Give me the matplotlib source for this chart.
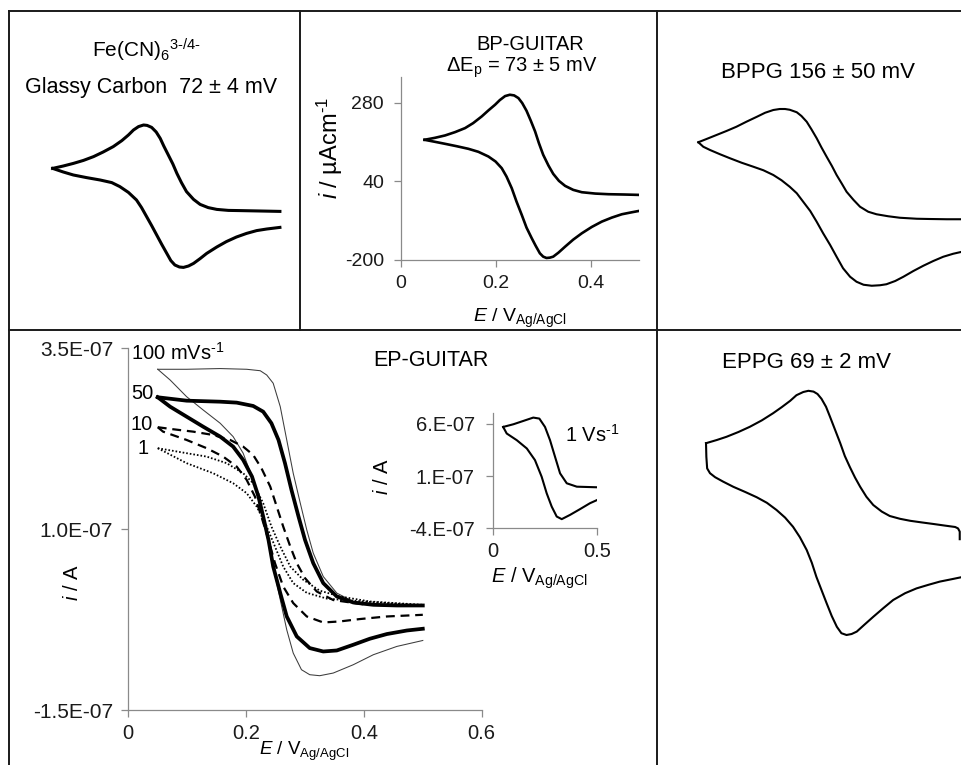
import numpy as np
import matplotlib.pyplot as plt
from matplotlib.lines import Line2D

plt.rcParams['font.family'] = ['Liberation Sans', 'DejaVu Sans']
plt.rcParams['mathtext.fontset'] = 'custom'
plt.rcParams['mathtext.rm'] = 'Liberation Sans'
plt.rcParams['mathtext.it'] = 'Liberation Sans:italic'
plt.rcParams['mathtext.bf'] = 'Liberation Sans:bold'
plt.rcParams['mathtext.sf'] = 'Liberation Sans'
plt.rcParams['mathtext.default'] = 'regular'

W, H = 962, 765
AXIS_GREY = '#8a8a8a'
BORDER = '#1a1a1a'
HY = '\u2010'  # plain hyphen inside superscripts

# ---- glassy carbon, Fe(CN)6 (current in uA)
gc_fwd_E = [0.050, 0.071, 0.091, 0.111, 0.131, 0.150, 0.170, 0.187, 0.200, 0.210, 0.220, 0.230, 0.237, 0.246,
            0.255, 0.263, 0.270, 0.279, 0.288, 0.296, 0.305, 0.315, 0.329, 0.342, 0.358, 0.375, 0.398, 0.421,
            0.461, 0.500]
gc_fwd_i = [10.8, 12.0, 13.3, 14.8, 16.7, 19.0, 21.7, 24.7, 27.5, 30.0, 31.7, 32.5, 32.3, 31.3,
            29.0, 25.8, 22.0, 17.5, 13.0, 8.3, 3.7, -0.8, -4.7, -7.2, -8.8, -9.7, -10.2, -10.3,
            -10.5, -10.7]
gc_rev_E = [0.050, 0.071, 0.091, 0.117, 0.144, 0.167, 0.183, 0.200, 0.216, 0.226, 0.236, 0.246, 0.256, 0.266,
            0.276, 0.284, 0.292, 0.301, 0.309, 0.319, 0.329, 0.342, 0.355, 0.375, 0.394, 0.414, 0.434, 0.454,
            0.474, 0.500]
gc_rev_i = [10.8, 9.0, 7.5, 6.2, 5.0, 3.7, 1.7, -1.2, -5.0, -8.8, -13.3, -17.8, -22.5, -27.2,
            -31.7, -35.3, -37.5, -38.5, -38.7, -38.0, -36.7, -34.3, -31.7, -28.5, -25.8, -23.5, -21.7, -20.3,
            -19.5, -18.7]

# ---- BP-GUITAR (uA cm-1)
bp_fwd_E = [0.050, 0.072, 0.093, 0.114, 0.135, 0.152, 0.170, 0.184, 0.198, 0.208, 0.219, 0.229, 0.238, 0.247,
            0.255, 0.264, 0.273, 0.282, 0.290, 0.299, 0.310, 0.320, 0.332, 0.345, 0.362, 0.380, 0.408, 0.436,
            0.471, 0.500]
bp_fwd_i = [166.7, 172.8, 180.0, 190.2, 202.5, 217.8, 238.3, 256.7, 274.1, 288.4, 300.6, 304.7, 302.7, 294.5,
            279.2, 255.6, 225.0, 192.2, 156.4, 120.7, 87.9, 62.4, 40.9, 25.5, 13.3, 6.1, 2.0, 0.0,
            -1.0, -2.1]
bp_rev_E = [0.050, 0.072, 0.093, 0.117, 0.142, 0.163, 0.184, 0.199, 0.212, 0.222, 0.233, 0.243, 0.254, 0.264,
            0.275, 0.283, 0.292, 0.299, 0.306, 0.313, 0.320, 0.331, 0.345, 0.362, 0.380, 0.401, 0.422, 0.443,
            0.464, 0.485, 0.500]
bp_rev_i = [166.7, 160.5, 154.4, 147.2, 139.1, 129.9, 115.5, 100.2, 79.7, 54.2, 18.4, -22.5, -63.4, -102.3,
            -135.0, -157.5, -181.0, -191.3, -195.4, -194.3, -191.3, -179.0, -160.6, -139.1, -119.7, -100.2, -83.9,
            -71.6, -61.4, -55.3, -51.2]
bp_xticks = [0, 0.2, 0.4]
bp_yticks = [-200, 40, 280]

# ---- BPPG (uA)
bppg_fwd_E = [0.050, 0.064, 0.081, 0.098, 0.115, 0.132, 0.150, 0.164, 0.178, 0.189, 0.198, 0.206, 0.218, 0.226,
              0.235, 0.243, 0.252, 0.260, 0.269, 0.278, 0.286, 0.295, 0.303, 0.315, 0.326, 0.340, 0.354, 0.374,
              0.394, 0.423, 0.445, 0.474, 0.500]
bppg_fwd_i = [13.1, 14.4, 16.0, 17.6, 19.3, 21.3, 23.3, 24.9, 26.0, 26.4, 26.4, 26.1, 25.1, 23.6,
              21.3, 18.3, 14.7, 11.1, 7.3, 3.6, 0.0, -3.5, -6.7, -10.0, -12.7, -14.7, -15.7, -16.5,
              -17.1, -17.5, -17.6, -17.7, -17.7]
bppg_rev_E = [0.050, 0.0585, 0.070, 0.087, 0.104, 0.124, 0.144, 0.161, 0.178, 0.192, 0.206, 0.218, 0.229, 0.241,
              0.252, 0.263, 0.275, 0.286, 0.297, 0.309, 0.320, 0.332, 0.346, 0.360, 0.371, 0.386, 0.400, 0.417,
              0.434, 0.451, 0.468, 0.485, 0.500]
bppg_rev_i = [13.1, 11.3, 10.0, 8.3, 6.7, 4.9, 3.3, 1.9, 0.0, -2.1, -4.7, -7.3, -10.7, -14.4,
              -18.7, -23.3, -28.0, -32.7, -37.3, -40.7, -42.7, -43.9, -44.3, -44.1, -43.7, -42.4, -40.7, -38.4,
              -36.3, -34.4, -32.7, -31.5, -30.7]

# ---- EPPG (uA)
eppg_fwd_E = [0.050, 0.069, 0.086, 0.107, 0.127, 0.148, 0.168, 0.183, 0.198, 0.209, 0.221, 0.230, 0.239, 0.246,
              0.253, 0.261, 0.268, 0.277, 0.286, 0.294, 0.303, 0.312, 0.321, 0.332, 0.344, 0.359, 0.373, 0.391,
              0.409, 0.429, 0.450, 0.470, 0.488, 0.493, 0.496, 0.496]
eppg_fwd_i = [16.7, 17.5, 18.3, 19.5, 20.8, 22.4, 24.2, 25.7, 27.3, 28.7, 29.5, 29.8, 29.6, 29.0,
              27.8, 25.8, 23.3, 20.0, 16.7, 13.5, 10.7, 8.1, 5.8, 3.3, 1.25, -0.4, -1.5, -2.2,
              -2.7, -3.1, -3.5, -3.9, -4.25, -4.6, -5.4, -7.3]
eppg_rev_E = [0.050, 0.0506, 0.052, 0.057, 0.066, 0.080, 0.098, 0.119, 0.139, 0.157, 0.174, 0.189, 0.203, 0.215,
              0.227, 0.236, 0.244, 0.253, 0.262, 0.271, 0.280, 0.288, 0.297, 0.306, 0.315, 0.329, 0.344, 0.362,
              0.379, 0.400, 0.420, 0.441, 0.461, 0.482, 0.499]
eppg_rev_i = [16.7, 13.3, 10.4, 9.2, 8.2, 7.1, 5.8, 4.5, 3.2, 1.8, 0.0, -1.9, -4.2, -6.8,
              -10.0, -13.2, -16.7, -20.0, -23.3, -26.5, -29.2, -30.8, -31.25, -31.0, -30.4, -28.6, -26.7, -24.5,
              -22.5, -20.8, -19.6, -18.7, -17.9, -17.3, -16.8]

# ---- EP-GUITAR scan rates (current in units of 1e-7 A)
ep100_fwd_E = [0.050, 0.099, 0.156, 0.201, 0.224, 0.235, 0.246, 0.258, 0.269, 0.280, 0.292, 0.303, 0.314, 0.331, 0.354, 0.382, 0.439, 0.500]
ep100_fwd_i = [3.21, 3.21, 3.22, 3.21, 3.19, 3.131, 3.017, 2.693, 2.233, 1.773, 1.359, 0.990, 0.669, 0.345, 0.116, 0.000, -0.046, -0.055]
ep100_rev_E = [0.050, 0.071, 0.099, 0.127, 0.156, 0.178, 0.195, 0.212, 0.224, 0.235, 0.246, 0.258, 0.269, 0.280, 0.294, 0.308, 0.325, 0.348, 0.382, 0.416, 0.456, 0.500]
ep100_rev_i = [3.21, 3.062, 2.831, 2.648, 2.464, 2.279, 2.050, 1.681, 1.312, 0.945, 0.483, 0.024, -0.391, -0.713, -0.943, -1.012, -1.026, -0.989, -0.874, -0.736, -0.621, -0.539]

ep50_fwd_E = [0.050, 0.099, 0.156, 0.184, 0.212, 0.229, 0.243, 0.255, 0.266, 0.277, 0.289, 0.300, 0.314, 0.331, 0.354, 0.382, 0.416, 0.456, 0.500]
ep50_fwd_i = [2.823, 2.776, 2.762, 2.749, 2.703, 2.624, 2.464, 2.233, 1.912, 1.543, 1.174, 0.852, 0.530, 0.254, 0.069, -0.014, -0.046, -0.055, -0.055]
ep50_rev_E = [0.050, 0.071, 0.099, 0.127, 0.156, 0.178, 0.195, 0.210, 0.221, 0.229, 0.238, 0.246, 0.258, 0.269, 0.286, 0.308, 0.331, 0.354, 0.382, 0.410, 0.439, 0.473, 0.500]
ep50_rev_i = [2.823, 2.693, 2.555, 2.417, 2.279, 2.141, 1.957, 1.727, 1.450, 1.174, 0.852, 0.483, 0.116, -0.207, -0.483, -0.644, -0.691, -0.677, -0.598, -0.515, -0.450, -0.401, -0.377]

ep10_fwd_E = [0.050, 0.076, 0.110, 0.144, 0.173, 0.195, 0.212, 0.226, 0.241, 0.252, 0.263, 0.275, 0.286, 0.300, 0.320, 0.348, 0.400, 0.500]
ep10_fwd_i = [2.409, 2.381, 2.348, 2.302, 2.233, 2.141, 2.026, 1.843, 1.588, 1.312, 1.036, 0.760, 0.530, 0.323, 0.138, 0.020, -0.040, -0.055]
ep10_rev_E = [0.050, 0.059, 0.099, 0.133, 0.161, 0.184, 0.201, 0.215, 0.226, 0.238, 0.249, 0.263, 0.280, 0.303, 0.331, 0.359, 0.393, 0.439, 0.500]
ep10_rev_i = [2.409, 2.348, 2.233, 2.119, 2.003, 1.865, 1.681, 1.450, 1.174, 0.852, 0.530, 0.207, -0.022, -0.207, -0.290, -0.276, -0.243, -0.207, -0.184]

ep1_fwd_E = [0.050, 0.099, 0.133, 0.167, 0.195, 0.212, 0.229, 0.243, 0.258, 0.275, 0.297, 0.325, 0.359, 0.410, 0.500]
ep1_fwd_i = [2.119, 2.050, 2.003, 1.912, 1.773, 1.635, 1.359, 1.036, 0.760, 0.483, 0.300, 0.150, 0.070, 0.000, -0.046]
ep1_rev_E = [0.050, 0.099, 0.144, 0.178, 0.201, 0.218, 0.235, 0.249, 0.263, 0.280, 0.303, 0.337, 0.382, 0.500]
ep1_rev_i = [2.119, 1.912, 1.773, 1.635, 1.497, 1.312, 1.036, 0.760, 0.483, 0.254, 0.120, 0.040, 0.010, -0.055]

ep_xticks = [0, 0.2, 0.4, 0.6]
ep_yticks = [-1.5e-7, 1.0e-7, 3.5e-7]
ep_yticklabels = ['-1.5E-07', '1.0E-07', '3.5E-07']

# ---- EP-GUITAR inset at 1 V/s (1e-7 A)
ins_fwd_E = [0.050, 0.099, 0.146, 0.194, 0.223, 0.250, 0.274, 0.298, 0.322, 0.354, 0.402, 0.497]
ins_fwd_i = [5.695, 5.952, 6.267, 6.590, 6.495, 5.695, 4.429, 2.838, 1.257, 0.305, -0.019, -0.076]
ins_rev_E = [0.050, 0.067, 0.115, 0.163, 0.202, 0.234, 0.258, 0.282, 0.306, 0.330, 0.370, 0.417, 0.465, 0.500]
ins_rev_i = [5.695, 5.067, 4.429, 3.638, 2.524, 0.933, -0.648, -1.924, -2.876, -3.124, -2.714, -2.171, -1.600, -1.286]
ins_xticks = [0, 0.5]
ins_yticks = [-4e-7, 1e-7, 6e-7]
ins_yticklabels = ['-4.E-07', '1.E-07', '6.E-07']


def rect(x0, y0, x1, y1):
    # pixel box (top-left origin) -> figure fraction
    return [x0 / W, 1 - y1 / H, (x1 - x0) / W, (y1 - y0) / H]


def px(x, y):
    return x / W, 1 - y / H


def excel_axes(ax, size, xpad, ypad):
    ax.patch.set_alpha(0)
    for s in ['top', 'right']:
        ax.spines[s].set_visible(False)
    for s in ['left', 'bottom']:
        ax.spines[s].set_color(AXIS_GREY)
        ax.spines[s].set_linewidth(0.9)
    ax.tick_params(direction='out', length=5, width=0.9, color=AXIS_GREY,
                   labelsize=size, labelcolor='#1a1a1a')
    ax.tick_params(axis='x', pad=xpad)
    ax.tick_params(axis='y', pad=ypad)


fig = plt.figure(figsize=(W / 100, H / 100), dpi=100)

# panel borders
for (x0, y0, x1, y1) in [(9, 11, 962, 11), (9, 11, 9, 765), (300, 11, 300, 330),
                         (657, 11, 657, 765), (9, 330, 962, 330)]:
    fig.add_artist(Line2D([x0 / W, x1 / W], [1 - y0 / H, 1 - y1 / H],
                          transform=fig.transFigure, color=BORDER, lw=1.4))

# ---- glassy carbon
ax1 = fig.add_axes(rect(9, 11, 300, 329))
ax1.plot(gc_fwd_E, gc_fwd_i, color='black', lw=2.2, solid_joinstyle='round')
ax1.plot(gc_rev_E, gc_rev_i, color='black', lw=2.2, solid_joinstyle='round')
ax1.set_xlim(-0.0365, 0.5398)
ax1.set_ylim(-69.5, 89.5)
ax1.set_axis_off()
fig.text(*px(146, 50), 'Fe(CN)$_{6}{}^{3' + HY + '/4' + HY + '}$', ha='center', va='center', fontsize=15)
fig.text(*px(151, 88), 'Glassy Carbon  72 \u00b1 4 mV', ha='center', va='center', fontsize=15.5)

# ---- BP-GUITAR
ax2 = fig.add_axes(rect(400.7, 76.7, 639, 259.5))
ax2.plot(bp_fwd_E, bp_fwd_i, color='black', lw=1.9, solid_joinstyle='round')
ax2.plot(bp_rev_E, bp_rev_i, color='black', lw=1.9, solid_joinstyle='round')
ax2.set_xlim(0, 0.5)
ax2.set_ylim(-200, 360)
ax2.set_xticks(bp_xticks)
ax2.set_xticklabels(['0', '0.2', '0.4'])
ax2.set_yticks(bp_yticks)
ax2.set_yticklabels([str(v) for v in bp_yticks])
excel_axes(ax2, 14, 6, 7)
fig.text(*px(530, 45), 'BP-GUITAR', ha='center', va='center', fontsize=14.5)
fig.text(*px(522, 68), '\u0394E$_{p}$ = 73 \u00b1 5 mV', ha='center', va='center', fontsize=14.5)
fig.text(*px(330, 148), '$\\mathit{i}$ / \u00b5Acm$^{' + HY + '1}$', ha='center', va='center',
         rotation=90, fontsize=17)
fig.text(*px(520, 318), r'$\mathit{E}$ / V$_{Ag/AgCl}$', ha='center', va='center', fontsize=14)

# ---- BPPG
ax3 = fig.add_axes(rect(658, 11, 962, 328))
ax3.plot(bppg_fwd_E, bppg_fwd_i, color='black', lw=1.5, solid_joinstyle='round')
ax3.plot(bppg_rev_E, bppg_rev_i, color='black', lw=1.5, solid_joinstyle='round')
ax3.set_xlim(-0.0188, 0.5)
ax3.set_ylim(-61.2, 65.6)
ax3.set_axis_off()
fig.text(*px(818, 72), 'BPPG 156 \u00b1 50 mV', ha='center', va='center', fontsize=16)

# ---- EP-GUITAR main
ax4 = fig.add_axes(rect(128.3, 348.3, 481.7, 710))
ax4.plot(ep100_fwd_E, np.array(ep100_fwd_i) * 1e-7, color='#3c3c3c', lw=0.75)
ax4.plot(ep100_rev_E, np.array(ep100_rev_i) * 1e-7, color='#3c3c3c', lw=0.75)
ax4.plot(ep1_fwd_E, np.array(ep1_fwd_i) * 1e-7, color='black', lw=1.3, dashes=(0.9, 1.1))
ax4.plot(ep1_rev_E, np.array(ep1_rev_i) * 1e-7, color='black', lw=1.3, dashes=(0.9, 1.1))
ax4.plot(ep10_fwd_E, np.array(ep10_fwd_i) * 1e-7, color='black', lw=1.6, dashes=(4, 2.6))
ax4.plot(ep10_rev_E, np.array(ep10_rev_i) * 1e-7, color='black', lw=1.6, dashes=(4, 2.6))
ax4.plot(ep50_fwd_E, np.array(ep50_fwd_i) * 1e-7, color='black', lw=2.7, solid_joinstyle='round')
ax4.plot(ep50_rev_E, np.array(ep50_rev_i) * 1e-7, color='black', lw=2.7, solid_joinstyle='round')
ax4.set_xlim(0, 0.6)
ax4.set_ylim(-1.5e-7, 3.5e-7)
ax4.set_xticks(ep_xticks)
ax4.set_xticklabels(['0', '0.2', '0.4', '0.6'])
ax4.set_yticks(ep_yticks)
ax4.set_yticklabels(ep_yticklabels)
excel_axes(ax4, 15, 5, 6)
ax4.tick_params(axis='x', labelsize=14.5)
fig.text(*px(131, 353), '100 mVs$^{' + HY + '1}$', ha='left', va='center', fontsize=14.5)
fig.text(*px(153, 394), '50', ha='right', va='center', fontsize=14.5)
fig.text(*px(153, 424), '10', ha='right', va='center', fontsize=14.5)
fig.text(*px(149, 448), '1', ha='right', va='center', fontsize=14.5)
fig.text(*px(431, 360), 'EP-GUITAR', ha='center', va='center', fontsize=15.5)
fig.text(*px(72, 583), r'$\mathit{i}$ / A', ha='center', va='center', rotation=90, fontsize=14.5)
fig.text(*px(304, 755), r'$\mathit{E}$ / V$_{Ag/AgCl}$', ha='center', va='baseline', fontsize=13.5)

# ---- inset, 1 V/s
ax5 = fig.add_axes(rect(492.7, 413.3, 597.3, 528.3))
ax5.plot(ins_fwd_E, np.array(ins_fwd_i) * 1e-7, color='black', lw=1.5)
ax5.plot(ins_rev_E, np.array(ins_rev_i) * 1e-7, color='black', lw=1.5)
ax5.set_xlim(0, 0.5)
ax5.set_ylim(-4e-7, 7e-7)
ax5.set_xticks(ins_xticks)
ax5.set_xticklabels(['0', '0.5'])
ax5.set_yticks(ins_yticks)
ax5.set_yticklabels(ins_yticklabels)
excel_axes(ax5, 14.5, 5, 8)
fig.text(*px(592, 435), '1 Vs$^{' + HY + '1}$', ha='center', va='center', fontsize=14.5)
fig.text(*px(382, 477), r'$\mathit{i}$ / A', ha='center', va='center', rotation=90, fontsize=14.5)
fig.text(*px(539, 578), r'$\mathit{E}$ / V$_{Ag/AgCl}$', ha='center', va='center', fontsize=14.5)

# ---- EPPG
ax6 = fig.add_axes(rect(658, 330, 962, 765))
ax6.plot(eppg_fwd_E, eppg_fwd_i, color='black', lw=1.5, solid_joinstyle='round')
ax6.plot(eppg_rev_E, eppg_rev_i, color='black', lw=1.5, solid_joinstyle='round')
ax6.set_xlim(-0.0344, 0.5)
ax6.set_ylim(-63.75, 45)
ax6.set_axis_off()
fig.text(*px(807, 363), 'EPPG 69 \u00b1 2 mV', ha='center', va='center', fontsize=16)

fig.savefig('out.png', dpi=100)
